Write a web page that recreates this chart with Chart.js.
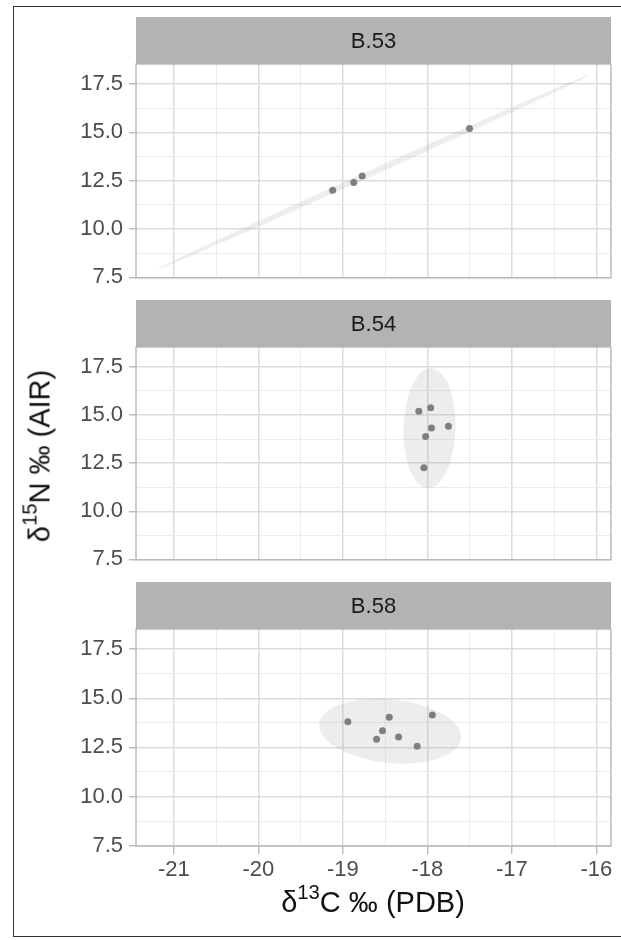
<!DOCTYPE html>
<html>
<head>
<meta charset="utf-8">
<script src="https://cdn.jsdelivr.net/npm/chart.js@4.4.0/dist/chart.umd.min.js"></script>
<style>
html, body { margin: 0; padding: 0; background: #fff; overflow: hidden; }
#fig { position: relative; width: 621px; height: 940px; overflow: hidden; font-family: 'Liberation Sans', Arial, sans-serif; }
#frame { position: absolute; left: 13px; top: 6px; width: 700px; height: 931px; border: 1px solid #333; box-sizing: border-box; }
canvas { position: absolute; left: 0; }
.title { position: absolute; font-size: 29px; color: #111; white-space: nowrap; line-height: 1; transform: translate(-50%, -50%); }
.title sup { font-size: 0.7em; position: relative; top: -0.1em; vertical-align: super; line-height: 0; }
#ytitle { transform: translate(-50%, -50%) rotate(-90deg); }
</style>
</head>
<body>
<div id="fig">
  <div id="frame"></div>
  <canvas id="p0" width="621" height="280" style="top:17px"></canvas>
  <canvas id="p1" width="621" height="279" style="top:300px"></canvas>
  <canvas id="p2" width="621" height="308" style="top:582px"></canvas>
  <div class="title" id="ytitle" style="left:40px; top:456px">δ<sup>15</sup>N ‰ (AIR)</div>
  <div class="title" style="left:373px; top:902px">δ<sup>13</sup>C ‰ (PDB)</div>
</div>
<script>
// facet names
var panelNames = ['B.53', 'B.54', 'B.58'];

// d13C (x) and d15N (y) per burial
var xB53 = [-19.12, -18.87, -18.77, -17.50];
var yB53 = [12.01, 12.40, 12.74, 15.19];
var xB54 = [-18.10, -17.96, -17.95, -17.75, -18.02, -18.04];
var yB54 = [15.20, 15.37, 14.32, 14.41, 13.88, 12.26];
var xB58 = [-18.94, -18.45, -18.53, -18.60, -18.34, -18.12, -17.94];
var yB58 = [13.81, 14.03, 13.35, 12.91, 13.03, 12.56, 14.15];

// data ellipses: centre and two semi-axis vectors, in data units
var ellCenter = [[-18.635, 12.95], [-17.974, 14.32], [-18.44, 13.33]];
var ellAxisA = [[2.555, 5.02], [0.0196, 3.111], [0.8375, -0.376]];
var ellAxisB = [[0.015, -0.14], [0.308, -0.035], [-0.039, -1.616]];

// tick values
var xMajor = [-21, -20, -19, -18, -17, -16];
var xMinor = [-20.5, -19.5, -18.5, -17.5, -16.5];
var yMajor = [7.5, 10, 12.5, 15, 17.5];
var yMinor = [8.75, 11.25, 13.75, 16.25];

var xs = [xB53, xB54, xB58];
var ys = [yB53, yB54, yB58];

Chart.defaults.font.family = "'Liberation Sans', Arial, sans-serif";

var STRIP_H = 47;

var panelPlugin = {
    id: 'panel',
    beforeDraw: function (chart) {
        var ctx = chart.ctx, a = chart.chartArea;
        ctx.save();
        ctx.fillStyle = '#b3b3b3';
        ctx.fillRect(a.left, a.top - STRIP_H, a.right - a.left, STRIP_H);
        ctx.fillStyle = '#1a1a1a';
        ctx.font = "22px 'Liberation Sans', Arial, sans-serif";
        ctx.textAlign = 'center';
        ctx.textBaseline = 'middle';
        ctx.fillText(chart.options.plugins.panel.name, (a.left + a.right) / 2, a.top - STRIP_H / 2 + 1);
        ctx.restore();
    },
    beforeDatasetsDraw: function (chart) {
        var o = chart.options.plugins.panel;
        var sx = chart.scales.x, sy = chart.scales.y, a = chart.chartArea, ctx = chart.ctx;
        var cx = sx.getPixelForValue(o.center[0]), cy = sy.getPixelForValue(o.center[1]);
        var ax = sx.getPixelForValue(o.center[0] + o.axisA[0]) - cx;
        var ay = sy.getPixelForValue(o.center[1] + o.axisA[1]) - cy;
        var bx = sx.getPixelForValue(o.center[0] + o.axisB[0]) - cx;
        var by = sy.getPixelForValue(o.center[1] + o.axisB[1]) - cy;
        ctx.save();
        ctx.beginPath();
        ctx.rect(a.left, a.top, a.right - a.left, a.bottom - a.top);
        ctx.clip();
        ctx.beginPath();
        ctx.save();
        ctx.transform(ax, ay, bx, by, cx, cy);
        ctx.arc(0, 0, 1, 0, Math.PI * 2);
        ctx.restore();
        ctx.fillStyle = 'rgba(150, 150, 150, 0.17)';
        ctx.fill();
        ctx.restore();
    },
    afterDraw: function (chart) {
        var ctx = chart.ctx, a = chart.chartArea;
        ctx.save();
        ctx.strokeStyle = '#b3b3b3';
        ctx.lineWidth = 1.3;
        ctx.strokeRect(a.left, a.top, a.right - a.left, a.bottom - a.top);
        ctx.restore();
    }
};

function makePanel(i) {
    var last = i === 2;
    var pts = xs[i].map(function (x, k) { return { x: x, y: ys[i][k] }; });
    new Chart(document.getElementById('p' + i).getContext('2d'), {
        type: 'scatter',
        data: {
            datasets: [{
                data: pts,
                backgroundColor: '#7f7f7f',
                borderWidth: 0,
                pointRadius: 3.5,
                pointHoverRadius: 3.5
            }]
        },
        options: {
            responsive: false,
            animation: false,
            layout: {
                padding: { top: STRIP_H, left: 0, right: 10, bottom: last ? 0 : 14 }
            },
            plugins: {
                legend: { display: false },
                tooltip: { enabled: false },
                panel: {
                    name: panelNames[i],
                    center: ellCenter[i],
                    axisA: ellAxisA[i],
                    axisB: ellAxisB[i]
                }
            },
            scales: {
                x: {
                    type: 'linear',
                    min: -21.447,
                    max: -15.826,
                    afterBuildTicks: function (s) {
                        s.ticks = xMajor.concat(xMinor).sort(function (a, b) { return a - b; })
                            .map(function (v) { return { value: v }; });
                    },
                    afterFit: function (s) { s.height = last ? 44 : 0; },
                    border: { display: false },
                    grid: {
                        drawTicks: last,
                        tickLength: 8,
                        color: function (c) { return xMajor.indexOf(c.tick.value) >= 0 ? '#dcdcdc' : '#ececec'; },
                        lineWidth: function (c) { return xMajor.indexOf(c.tick.value) >= 0 ? 1.5 : 1; },
                        tickColor: function (c) { return xMajor.indexOf(c.tick.value) >= 0 ? '#b3b3b3' : 'rgba(0,0,0,0)'; },
                        tickWidth: 1.3
                    },
                    ticks: {
                        display: last,
                        autoSkip: false,
                        maxRotation: 0,
                        minRotation: 0,
                        padding: 3,
                        color: '#4d4d4d',
                        font: { size: 22 },
                        callback: function (v) { return xMajor.indexOf(v) >= 0 ? String(v) : ''; }
                    }
                },
                y: {
                    type: 'linear',
                    min: 7.48,
                    max: 18.53,
                    afterBuildTicks: function (s) {
                        s.ticks = yMajor.concat(yMinor).sort(function (a, b) { return a - b; })
                            .map(function (v) { return { value: v }; });
                    },
                    afterFit: function (s) { s.width = 136; },
                    border: { display: false },
                    grid: {
                        tickLength: 7,
                        color: function (c) { return yMajor.indexOf(c.tick.value) >= 0 ? '#dcdcdc' : '#ececec'; },
                        lineWidth: function (c) { return yMajor.indexOf(c.tick.value) >= 0 ? 1.5 : 1; },
                        tickColor: function (c) { return yMajor.indexOf(c.tick.value) >= 0 ? '#b3b3b3' : 'rgba(0,0,0,0)'; },
                        tickWidth: 1.3
                    },
                    ticks: {
                        autoSkip: false,
                        padding: 6,
                        color: '#4d4d4d',
                        font: { size: 22 },
                        callback: function (v) { return yMajor.indexOf(v) >= 0 ? v.toFixed(1) : ''; }
                    }
                }
            }
        },
        plugins: [panelPlugin]
    });
}

makePanel(0);
makePanel(1);
makePanel(2);
</script>
</body>
</html>
